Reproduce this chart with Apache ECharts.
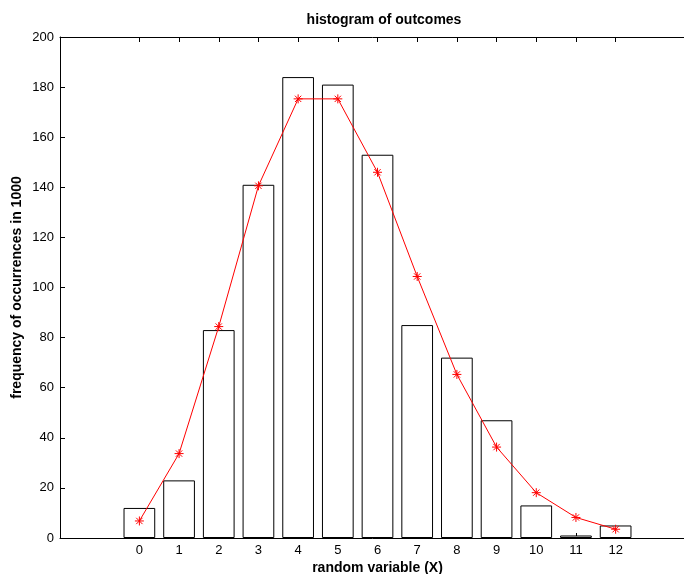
<!DOCTYPE html>
<html>
<head>
<meta charset="utf-8">
<script src="https://cdn.jsdelivr.net/npm/echarts@6/dist/echarts.min.js"></script>
<style>html,body{margin:0;padding:0;background:#fff}#c{width:684px;height:574px}</style>
</head>
<body>
<div id="c"></div>
<script>
var categories = [0,1,2,3,4,5,6,7,8,9,10,11,12];
var tickLabels = ['0','1','2','3','4','5','6','7','8','9','10','11','12'];
var counts = [12,23,83,141,184,181,153,85,72,47,13,1,5];
var expected = [6.8,33.7,84.4,140.6,175.3,175.3,146,104.4,65.3,36.3,18.1,8.2,3.5];
var yTicks = [0,20,40,60,80,100,120,140,160,180,200];

var font = '"Liberation Sans", Arial, Helvetica, sans-serif';
var chart = echarts.init(document.getElementById('c'), null, {renderer:'canvas'});
var barData = categories.map(function(c,i){return [c, counts[i]];});
var lineData = categories.map(function(c,i){return [c, expected[i]];});
var star = 'path://M5,0L5,10M0,5L10,5M1.5,1.5L8.5,8.5M1.5,8.5L8.5,1.5';

chart.setOption({
  animation:false,
  backgroundColor:'#fff',
  title:{
    text:'histogram of outcomes',
    left:379, top:8, textAlign:'center',
    textStyle:{fontFamily:font,fontSize:14,fontWeight:'bold',color:'#000'}
  },
  grid:{left:60, top:37, width:635, height:501, containLabel:false, outerBoundsMode:'none'},
  xAxis:[{
    type:'value', min:-2, max:14, position:'bottom',
    name:'random variable (X)', nameLocation:'middle', nameGap:23, nameMoveOverlap:false,
    nameTextStyle:{fontFamily:font,fontSize:14,fontWeight:'bold',color:'#000'},
    axisLine:{show:true,onZero:false,lineStyle:{color:'#000',width:1}},
    axisTick:{show:true,inside:true,length:5,customValues:categories,lineStyle:{color:'#000'}},
    axisLabel:{show:true,customValues:categories,margin:6,fontFamily:font,fontSize:13,color:'#000',
      formatter:function(v){return tickLabels[categories.indexOf(v)];}},
    splitLine:{show:false}
  },{
    type:'value', min:-2, max:14, position:'top',
    axisLine:{show:true,onZero:false,lineStyle:{color:'#000',width:1}},
    axisTick:{show:true,inside:true,length:5,customValues:categories,lineStyle:{color:'#000'}},
    axisLabel:{show:false},
    splitLine:{show:false}
  }],
  yAxis:[{
    type:'value', min:0, max:200, interval:20, position:'left',
    name:'frequency of occurrences in 1000', nameLocation:'middle', nameGap:36, nameMoveOverlap:false,
    nameTextStyle:{fontFamily:font,fontSize:14,fontWeight:'bold',color:'#000'},
    axisLine:{show:true,onZero:false,lineStyle:{color:'#000',width:1}},
    axisTick:{show:true,inside:true,length:5,lineStyle:{color:'#000'}},
    axisLabel:{margin:6,fontFamily:font,fontSize:13,color:'#000',
      formatter:function(v){return yTicks.indexOf(v)>=0 ? String(v) : '';}},
    splitLine:{show:false}
  }],
  series:[{
    type:'bar', data:barData, barWidth:31.7, xAxisIndex:0,
    itemStyle:{color:'#fff',borderColor:'#000',borderWidth:1},
    emphasis:{disabled:true}, z:2
  },{
    type:'line', data:lineData, xAxisIndex:0,
    lineStyle:{color:'#ff0000',width:1},
    symbol:star, symbolSize:9,
    itemStyle:{color:'none',borderColor:'#ff0000',borderWidth:1},
    emphasis:{disabled:true}, z:3
  }]
});
</script>
</body>
</html>
